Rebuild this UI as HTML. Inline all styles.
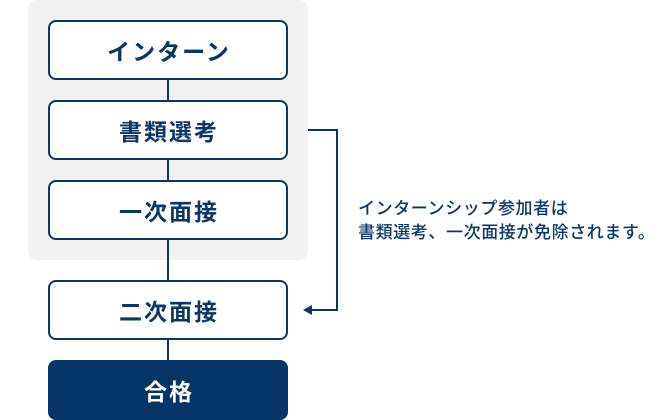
<!DOCTYPE html>
<html>
<head>
<meta charset="utf-8">
<style>
  html,body{margin:0;padding:0;background:#fff;}
  body{width:670px;height:420px;position:relative;overflow:hidden;
    font-family:"Liberation Sans","Noto Sans CJK JP",sans-serif;}
  .panel{position:absolute;left:28px;top:0;width:280px;height:260px;background:#f2f2f2;border-radius:9px;}
  .box{position:absolute;left:48px;width:240px;height:60px;box-sizing:border-box;
    border:2px solid #0a3566;border-radius:8px;background:#fff;color:#0a3566;
    font-size:23px;font-weight:700;letter-spacing:2px;text-indent:2px;
    display:flex;align-items:center;justify-content:center;}
  .box.fill{background:#053566;color:#fff;border-color:#053566;}
  .v{position:absolute;left:167px;width:2px;background:#0a3566;}
  .note{position:absolute;left:358px;top:197px;color:#0a3566;font-size:17px;
    line-height:24px;letter-spacing:0.6px;font-weight:500;white-space:nowrap;}
</style>
</head>
<body>
  <div class="panel"></div>
  <div class="v" style="top:78px;height:24px;"></div>
  <div class="v" style="top:158px;height:24px;"></div>
  <div class="v" style="top:238px;height:44px;"></div>
  <div class="v" style="top:338px;height:24px;"></div>

  <div class="box" style="top:20px;">インターン</div>
  <div class="box" style="top:100px;">書類選考</div>
  <div class="box" style="top:180px;">一次面接</div>
  <div class="box" style="top:280px;">二次面接</div>
  <div class="box fill" style="top:360px;">合格</div>

  <svg style="position:absolute;left:0;top:0" width="670" height="420">
    <polyline points="308,130 337,130 337,310 310,310" fill="none" stroke="#0a3566" stroke-width="2"/>
    <polygon points="303,310 312,305 312,315" fill="#0a3566"/>
  </svg>

  <div class="note">インターンシップ参加者は<br>書類選考、一次面接が免除されます。</div>
</body>
</html>
